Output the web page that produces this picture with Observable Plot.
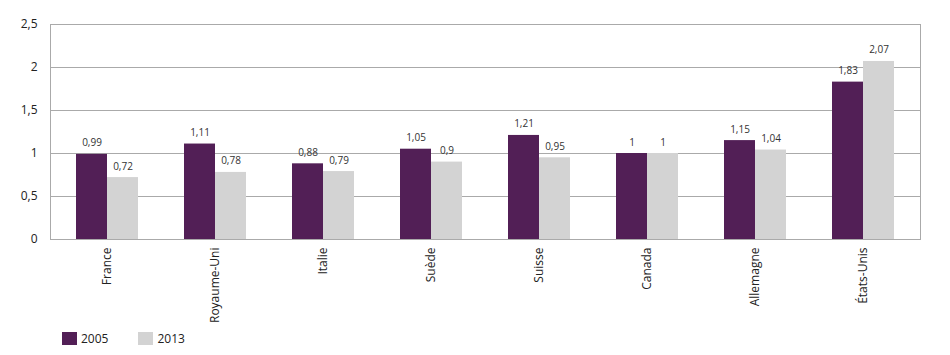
<!DOCTYPE html>
<html>
<head>
<meta charset="utf-8">
<script src="https://cdn.jsdelivr.net/npm/d3@7"></script>
<script src="https://cdn.jsdelivr.net/npm/@observablehq/plot@0.6"></script>
<style>
  body { margin: 0; background: #fff; font-family: "Open Sans", sans-serif; }
  #chart { position: relative; width: 950px; height: 355px; }
  #chart svg { overflow: visible; }
  .legend { position: absolute; left: 62px; top: 330px; display: flex; align-items: center; font-size: 12px; color: #222; }
  .legend .sw { display: inline-block; width: 15px; height: 13px; margin-right: 4px; }
  .legend .item { display: flex; align-items: center; margin-right: 30px; }
</style>
</head>
<body>
<div id="chart"></div>
<script>
const countries = ["France", "Royaume-Uni", "Italie", "Suède", "Suisse", "Canada", "Allemagne", "États-Unis"];
const values2005 = [0.99, 1.11, 0.88, 1.05, 1.21, 1, 1.15, 1.83];
const values2013 = [0.72, 0.78, 0.79, 0.9, 0.95, 1, 1.04, 2.07];
const years = ["2005", "2013"];
const colors = ["#521f56", "#d3d3d3"];
const yTicks = [0, 0.5, 1, 1.5, 2, 2.5];

const fmt = v => String(v).replace(".", ",");
const d2005 = countries.map((c, i) => ({country: c, value: values2005[i]}));
const d2013 = countries.map((c, i) => ({country: c, value: values2013[i]}));

const half = 31;
const plot = Plot.plot({
  width: 950,
  height: 325,
  marginTop: 24,
  marginBottom: 86,
  marginLeft: 50,
  marginRight: 30,
  style: {fontFamily: "Open Sans, sans-serif", fontSize: "11px", color: "#222", background: "transparent", overflow: "visible"},
  x: {domain: countries, paddingInner: 0.43, paddingOuter: 0.215, label: null},
  y: {domain: [0, 2.5], label: null},
  marks: [
    Plot.gridY(yTicks, {stroke: "#aaa", strokeOpacity: 1}),
    Plot.frame({stroke: "#aaa"}),
    Plot.barY(d2005, {x: "country", y: "value", fill: colors[0], insetRight: half}),
    Plot.barY(d2013, {x: "country", y: "value", fill: colors[1], insetLeft: half}),
    Plot.text(d2005, {x: "country", y: "value", text: d => fmt(d.value), dx: -half / 2, dy: -8, lineAnchor: "bottom", fontSize: 10, fill: "#333"}),
    Plot.text(d2013, {x: "country", y: "value", text: d => fmt(d.value), dx: half / 2, dy: -8, lineAnchor: "bottom", fontSize: 10, fill: "#333"}),
    Plot.axisY({ticks: yTicks, tickFormat: fmt, tickSize: 0, tickPadding: 13, fontSize: 12}),
    Plot.axisX({tickSize: 0, tickPadding: 8, tickRotate: -90, fontSize: 12})
  ]
});
const chart = document.getElementById("chart");
chart.appendChild(plot);

const legend = document.createElement("div");
legend.className = "legend";
years.forEach((y, i) => {
  const item = document.createElement("span");
  item.className = "item";
  item.innerHTML = `<span class="sw" style="background:${colors[i]}"></span><span>${y}</span>`;
  legend.appendChild(item);
});
chart.appendChild(legend);
</script>
</body>
</html>
